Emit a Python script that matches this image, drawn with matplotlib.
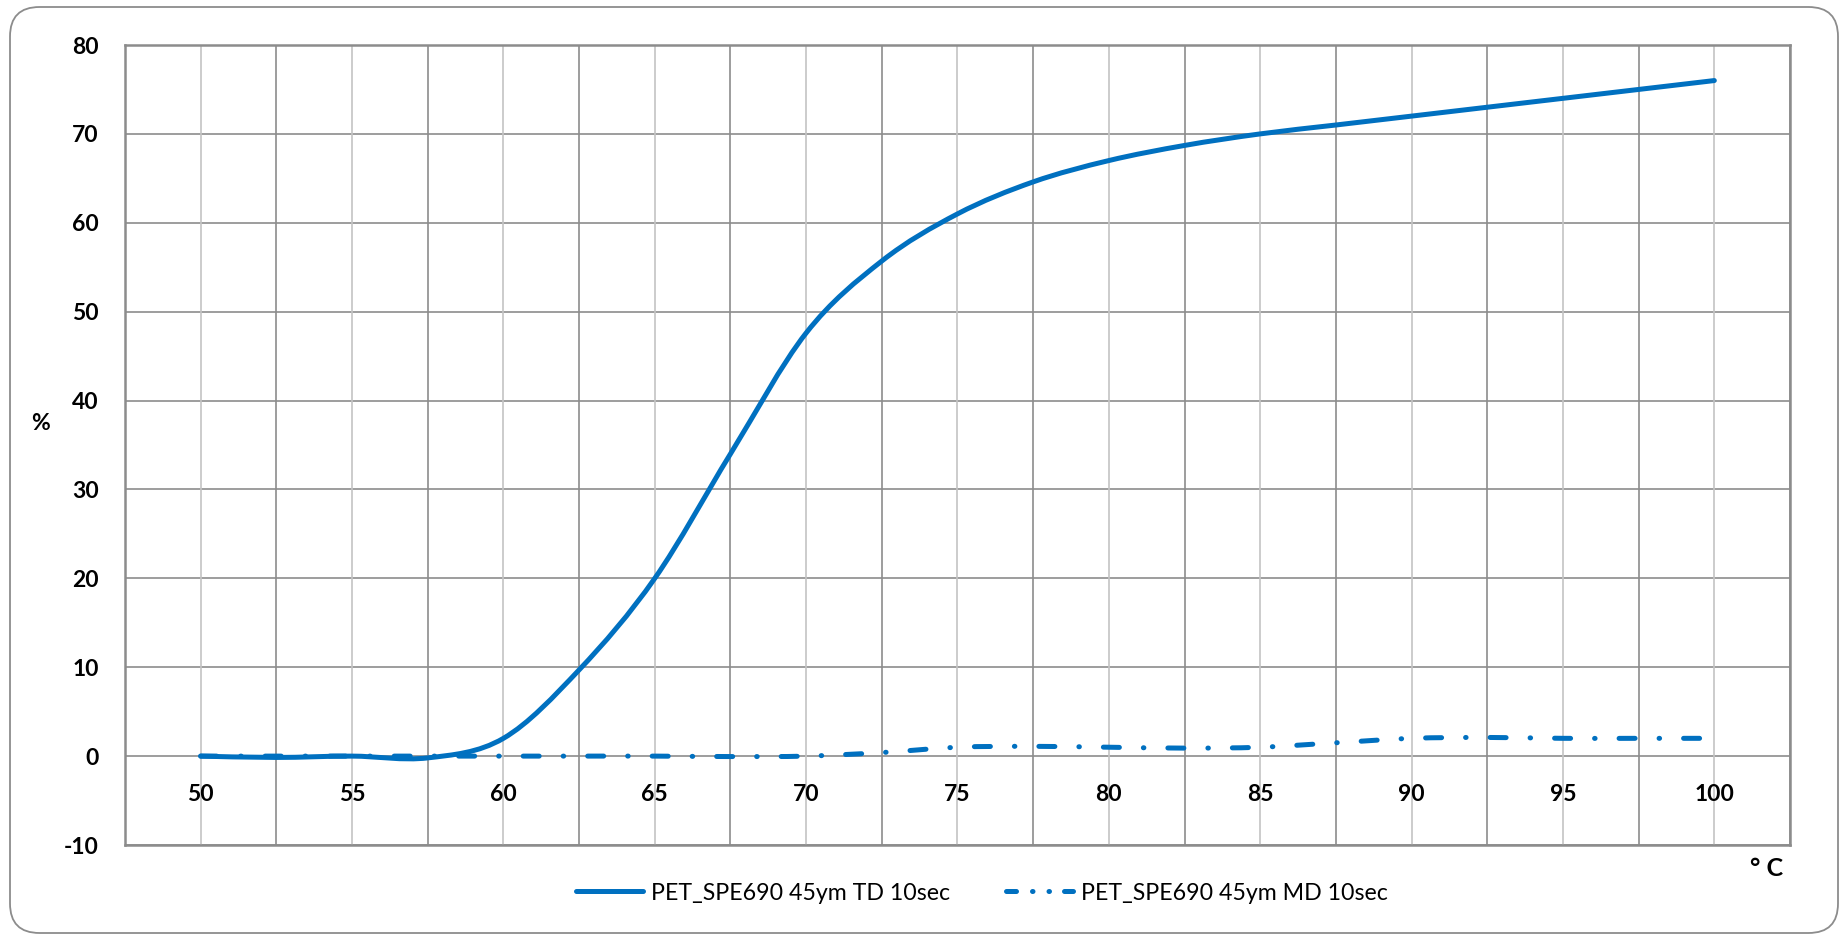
import numpy as np
import matplotlib
matplotlib.use('Agg')
import matplotlib.pyplot as plt
from matplotlib.path import Path
from matplotlib.patches import PathPatch, FancyBboxPatch
from matplotlib.lines import Line2D

# ---- data ----
temp = [50, 52.5, 55, 57.5, 60, 62.5, 65, 67.5, 70, 72.5, 75, 77.5, 80,
        82.5, 85, 87.5, 90, 92.5, 95, 97.5, 100]
td_10sec = [0, -0.15, 0, -0.2, 2.0, 9.7, 20.0, 34.0, 47.6, 55.7, 61.0, 64.6, 67.0,
            68.7, 70.0, 71.0, 72.0, 73.0, 74.0, 75.0, 76.0]
md_10sec = [0, 0, 0, 0, 0, 0, 0, -0.05, 0, 0.4, 1.0, 1.1, 1.0,
            0.9, 1.0, 1.5, 2.0, 2.1, 2.0, 2.0, 2.0]
series_names = ["PET_SPE690 45ym TD 10sec", "PET_SPE690 45ym MD 10sec"]
x_ticks = [50, 55, 60, 65, 70, 75, 80, 85, 90, 95, 100]
x_minor = [47.5, 52.5, 57.5, 62.5, 67.5, 72.5, 77.5, 82.5, 87.5, 92.5, 97.5, 102.5]
y_ticks = [-10, 0, 10, 20, 30, 40, 50, 60, 70, 80]

BLUE = '#0070C0'
FONT = 'Lato'
W, H = 1845, 940

fig = plt.figure(figsize=(W / 100, H / 100), dpi=100)

# outer rounded frame
frame = FancyBboxPatch((10 / W, 7 / H), (1828) / W, (926) / H,
                       boxstyle="round,pad=0,rounding_size=0.016",
                       transform=fig.transFigure, facecolor='none',
                       edgecolor='#8C8C8C', linewidth=1.3, zorder=-10,
                       mutation_aspect=W / H)
fig.patches.append(frame)

ax = fig.add_axes([125 / W, 1 - 845 / H, (1790 - 125) / W, (845 - 45) / H])
ax.set_xlim(47.5, 102.5)
ax.set_ylim(-10, 80)
ax.set_facecolor('none')

# grid
for yv in y_ticks:
    ax.axhline(yv, color='#8C8C8C', lw=1.2, zorder=1)
for xv in x_ticks:
    ax.axvline(xv, color='#C4C4C4', lw=1.2, zorder=1)
for xv in x_minor:
    ax.axvline(xv, color='#8C8C8C', lw=1.2, zorder=1)

for s in ax.spines.values():
    s.set_color('#8C8C8C')
    s.set_linewidth(1.8)

ax.set_xticks([])
ax.set_yticks(y_ticks)
ax.set_yticklabels([str(v) for v in y_ticks], fontfamily=FONT,
                   fontweight='bold', fontsize=16.5)
ax.tick_params(axis='y', length=0, pad=19)

for xv in x_ticks:
    ax.annotate(str(xv), xy=(xv, 0), xytext=(0, -27.5), textcoords='offset points',
                ha='center', va='center', fontfamily=FONT, fontweight='bold',
                fontsize=16.5)


def smooth_path(x, y):
    pts = np.column_stack([x, y]).astype(float)
    n = len(pts)
    verts = [pts[0]]
    codes = [Path.MOVETO]
    for i in range(n - 1):
        p0 = pts[max(i - 1, 0)]
        p1 = pts[i]
        p2 = pts[i + 1]
        p3 = pts[min(i + 2, n - 1)]
        c1 = p1 + (p2 - p0) / 6.0
        c2 = p2 - (p3 - p1) / 6.0
        verts += [c1, c2, p2]
        codes += [Path.CURVE4] * 3
    return Path(verts, codes)


LW = 3.6
dashdot = (0, (3.2, 4.8, 0.1, 4.8))

p1 = PathPatch(smooth_path(temp, td_10sec), facecolor='none', edgecolor=BLUE,
               lw=LW, zorder=3, capstyle='round', joinstyle='round')
ax.add_patch(p1)
p2 = PathPatch(smooth_path(temp, md_10sec), facecolor='none', edgecolor=BLUE,
               lw=LW, zorder=3, capstyle='round', joinstyle='round',
               linestyle=dashdot)
ax.add_patch(p2)

# axis titles
fig.text(40 / W, 1 - 424 / H, '%', fontfamily=FONT, fontweight='bold',
         fontsize=16.5, ha='center', va='center')
fig.text(1767 / W, 1 - 868 / H, '° C', fontfamily=FONT, fontweight='bold',
         fontsize=18, ha='center', va='center')

# legend
h1 = Line2D([], [], color=BLUE, lw=LW, solid_capstyle='round')
h2 = Line2D([], [], color=BLUE, lw=LW, linestyle=(0, (2.0, 3.2, 0.1, 3.2, 0.1, 3.0)),
            dash_capstyle='round')
leg = fig.legend([h1, h2], series_names, loc='center',
                 bbox_to_anchor=(982 / W, 1 - 893 / H), ncol=2, frameon=False,
                 prop={'family': FONT, 'size': 16.7}, handlelength=2.9,
                 handletextpad=0.35, columnspacing=2.4)

fig.savefig('out.png', dpi=100, facecolor='white')
